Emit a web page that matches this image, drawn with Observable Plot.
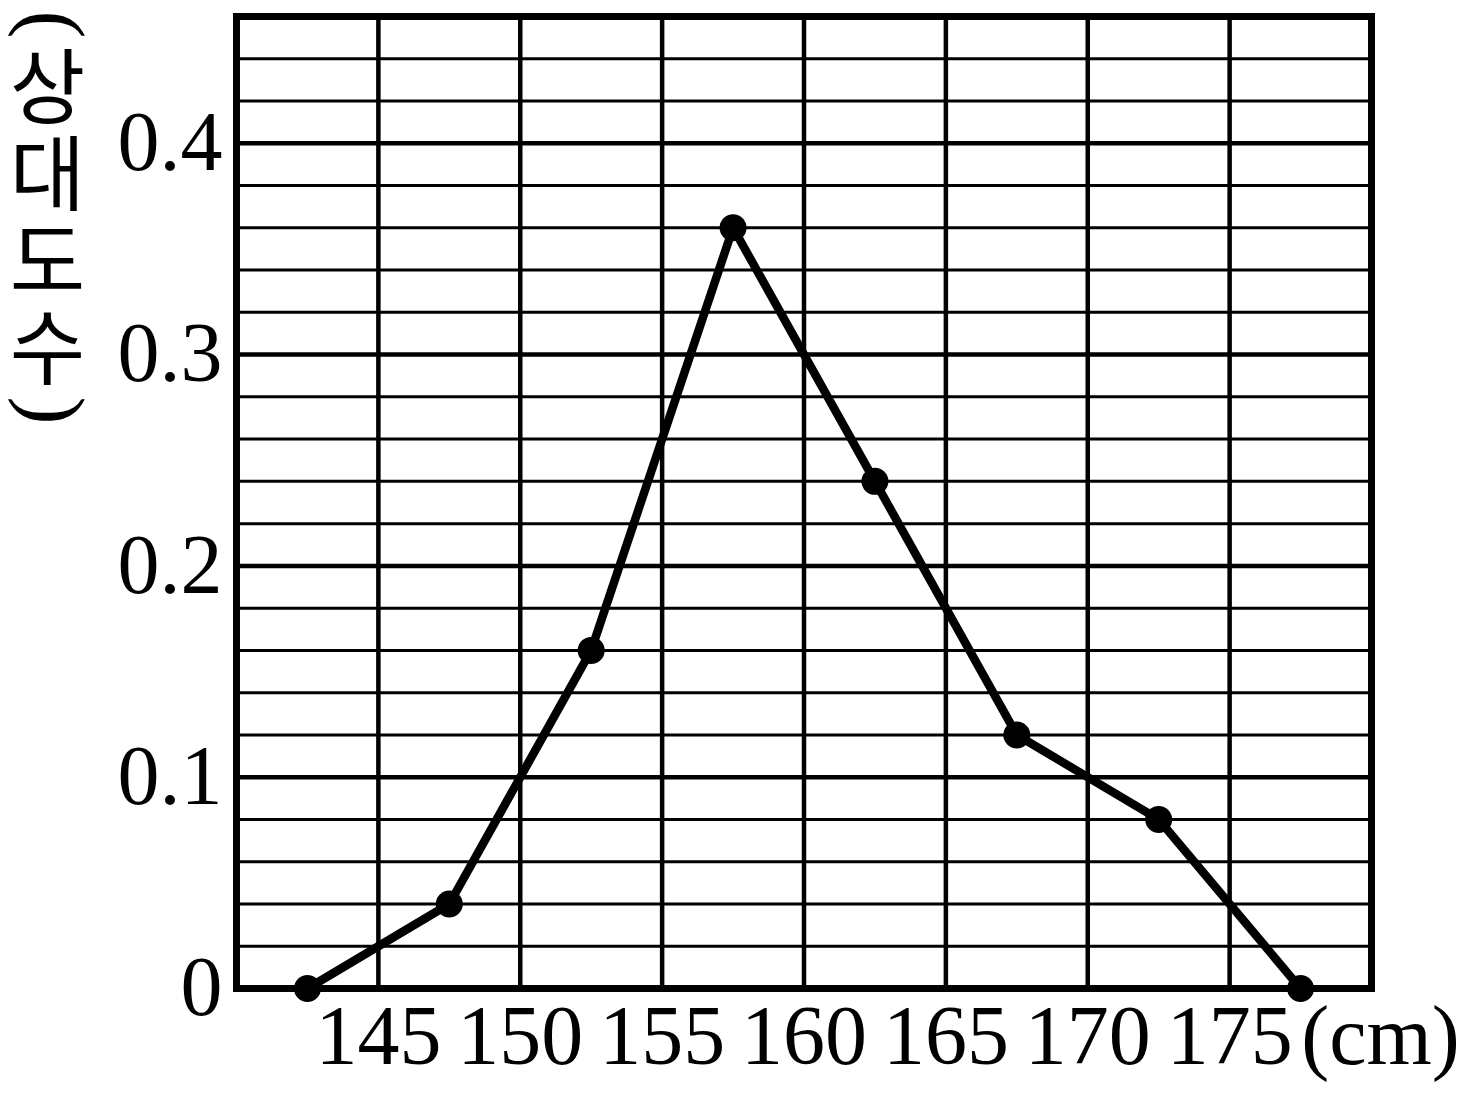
<!DOCTYPE html>
<html>
<head>
<meta charset="utf-8">
<script src="https://cdn.jsdelivr.net/npm/d3@7"></script>
<script src="https://cdn.jsdelivr.net/npm/@observablehq/plot@0.6"></script>
<style>
  html, body { margin: 0; padding: 0; background: #fff; }
</style>
</head>
<body>
<div id="chart"></div>
<script>
// Class midpoints (cm) and relative frequencies
const classMid = [142.5, 147.5, 152.5, 157.5, 162.5, 167.5, 172.5, 177.5];
const relFreq = [0, 0.04, 0.16, 0.36, 0.24, 0.12, 0.08, 0];

// Tick labels / grid positions
const xTicks = [145, 150, 155, 160, 165, 170, 175];
const yTicks = [0, 0.1, 0.2, 0.3, 0.4];
const yMinor = [0.02, 0.04, 0.06, 0.08, 0.12, 0.14, 0.16, 0.18, 0.22, 0.24, 0.26, 0.28, 0.32, 0.34, 0.36, 0.38, 0.42, 0.44];
const xDomain = [140, 180];
const yDomain = [0, 0.46];
const yLabelChars = "상\n대\n도\n수";
const yLabelOpen = "(";
const yLabelClose = ")";
const xUnit = "(cm)";

const points = classMid.map((x, i) => ({x, y: relFreq[i]}));

const serif = "'Liberation Serif', 'Times New Roman', serif";
const kr = "'Noto Sans CJK KR', sans-serif";

const chart = Plot.plot({
  width: 1476,
  height: 1093,
  marginLeft: 236,
  marginRight: 105,
  marginTop: 16,
  marginBottom: 105,
  x: {domain: xDomain},
  y: {domain: yDomain},
  style: {background: "#fff", color: "#000", fontFamily: serif, fontSize: "84px"},
  marks: [
    Plot.ruleY(yMinor, {stroke: "#000", strokeWidth: 3}),
    Plot.ruleY(yTicks, {stroke: "#000", strokeWidth: 4.5}),
    Plot.ruleX(xTicks, {stroke: "#000", strokeWidth: 4.5}),
    Plot.frame({stroke: "#000", strokeWidth: 7}),
    Plot.axisX(xTicks, {tickSize: 0, tickPadding: 16, label: null, fontSize: 84, fontFamily: serif}),
    Plot.axisY(yTicks, {tickSize: 0, tickPadding: 14, label: null, fontSize: 84, fontFamily: serif,
      tickFormat: d => d === 0 ? "0" : d.toFixed(1)}),
    Plot.line(points, {x: "x", y: "y", stroke: "#000", strokeWidth: 8.5, strokeLinejoin: "round"}),
    Plot.dot(points, {x: "x", y: "y", r: 13.5, fill: "#000", stroke: "none"}),
    Plot.text([xUnit], {text: d => d, frameAnchor: "bottom-right", textAnchor: "middle", lineAnchor: "top", dx: 9, dy: 16, fontSize: 84, fontFamily: serif, fill: "#000"}),
    Plot.text([yLabelChars], {text: d => d, frameAnchor: "top-left", textAnchor: "middle", lineAnchor: "middle", dx: -189, dy: 203, fontSize: 82, lineHeight: 1.06, fontFamily: kr, fill: "#000"}),
    Plot.text([yLabelOpen], {text: d => d, frameAnchor: "top-left", textAnchor: "middle", lineAnchor: "middle", rotate: 90, dx: -184, dy: 8, fontSize: 84, fontFamily: serif, fill: "#000"}),
    Plot.text([yLabelClose], {text: d => d, frameAnchor: "top-left", textAnchor: "middle", lineAnchor: "middle", rotate: 90, dx: -184, dy: 394, fontSize: 84, fontFamily: serif, fill: "#000"})
  ]
});

document.getElementById("chart").appendChild(chart);
</script>
</body>
</html>
